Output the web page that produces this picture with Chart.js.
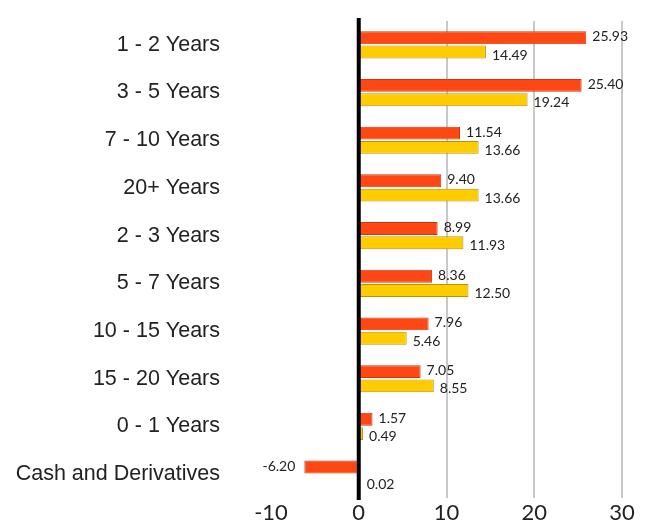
<!DOCTYPE html>
<html>
<head>
<meta charset="utf-8">
<script src="https://cdn.jsdelivr.net/npm/chart.js@4.4.0/dist/chart.umd.min.js"></script>
<style>
  html, body { margin: 0; padding: 0; background: #fff; }
  #wrap { width: 646px; height: 527px; }
</style>
</head>
<body>
<div id="wrap"><canvas id="chart"></canvas></div>
<script>
const categories = ['1 - 2 Years', '3 - 5 Years', '7 - 10 Years', '20+ Years', '2 - 3 Years',
    '5 - 7 Years', '10 - 15 Years', '15 - 20 Years', '0 - 1 Years', 'Cash and Derivatives'];
const redValues = [25.93, 25.40, 11.54, 9.40, 8.99, 8.36, 7.96, 7.05, 1.57, -6.20];
const yellowValues = [14.49, 19.24, 13.66, 13.66, 11.93, 12.50, 5.46, 8.55, 0.49, 0.02];
const xTicks = [-10, 0, 10, 20, 30];

// zero line on top of the bars, then the value next to the end of each bar
const valueLabels = {
    id: 'valueLabels',
    afterDatasetsDraw(chart) {
        const ctx = chart.ctx;
        const area = chart.chartArea;
        const x0 = chart.scales.x.getPixelForValue(0);
        ctx.save();
        ctx.strokeStyle = '#000';
        ctx.lineWidth = 4;
        ctx.beginPath();
        ctx.moveTo(x0, area.top - 3);
        ctx.lineTo(x0, area.bottom + 2);
        ctx.stroke();

        ctx.font = '14px Lato, sans-serif';
        ctx.fillStyle = '#222';
        ctx.textBaseline = 'middle';
        chart.data.datasets.forEach((ds, i) => {
            const meta = chart.getDatasetMeta(i);
            meta.data.forEach((bar, j) => {
                const v = ds.data[j];
                const txt = v.toFixed(2);
                const dy = i === 1 ? 3 : -1;
                if (v < 0) {
                    ctx.textAlign = 'right';
                    ctx.fillText(txt, bar.x - 9, bar.y + dy);
                } else {
                    ctx.textAlign = 'left';
                    ctx.fillText(txt, Math.max(bar.x, x0 + 2) + 6, bar.y + dy);
                }
            });
        });
        ctx.restore();
    }
};

new Chart(document.getElementById('chart'), {
    type: 'bar',
    data: {
        labels: categories,
        datasets: [
            {
                data: redValues,
                backgroundColor: '#ff4713',
                borderColor: '#c93a10',
                borderWidth: 1,
                borderSkipped: false
            },
            {
                data: yellowValues,
                backgroundColor: '#ffcc00',
                borderColor: '#b99300',
                borderWidth: 1,
                borderSkipped: false
            }
        ]
    },
    options: {
        indexAxis: 'y',
        responsive: true,
        maintainAspectRatio: false,
        animation: false,
        layout: { padding: { left: 0, right: 24, top: 21, bottom: 0 } },
        datasets: {
            bar: { categoryPercentage: 0.6, barPercentage: 0.9 }
        },
        plugins: {
            legend: { display: false },
            tooltip: { enabled: false }
        },
        scales: {
            x: {
                min: -10,
                max: 30,
                afterBuildTicks: axis => {
                    axis.ticks = xTicks.map(v => ({ value: v }));
                },
                afterFit: axis => {
                    axis.height = 29;
                    axis.paddingLeft = 0;
                    axis.paddingRight = 0;
                },
                border: { display: false },
                grid: {
                    color: c => (c.tick.value === 0 || c.tick.value === -10) ? 'rgba(0,0,0,0)' : '#c8c8c8',
                    lineWidth: 2,
                    drawTicks: false
                },
                ticks: {
                    color: '#222',
                    font: { family: 'Lato, sans-serif', size: 22 },
                    padding: 2,
                    maxRotation: 0
                }
            },
            y: {
                afterFit: axis => {
                    axis.width = 271;
                    axis.paddingTop = 0;
                    axis.paddingBottom = 0;
                },
                border: { display: false },
                grid: { display: false, drawTicks: false },
                ticks: {
                    color: '#222',
                    font: { family: '"Liberation Sans", Arial, sans-serif', size: 21.5 },
                    padding: 51
                }
            }
        }
    },
    plugins: [valueLabels]
});
</script>
</body>
</html>
